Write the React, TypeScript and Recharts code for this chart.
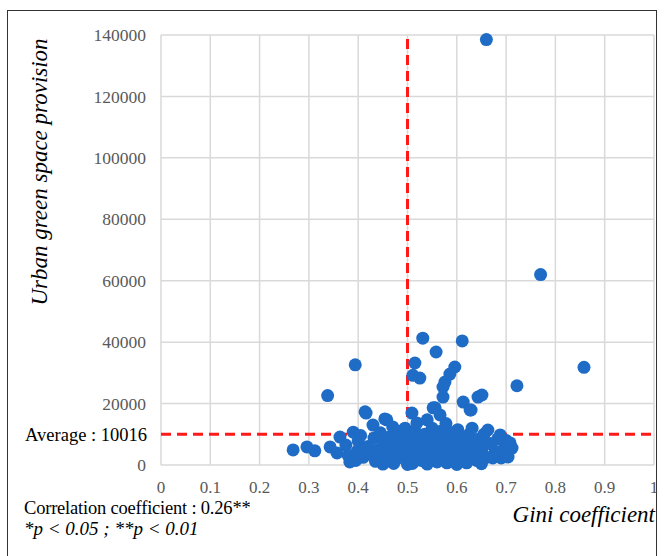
import React from 'react';
import {
  ScatterChart,
  Scatter,
  XAxis,
  YAxis,
  CartesianGrid,
  ReferenceLine,
} from 'recharts';

// Gini coefficient vs urban green space provision
const upperPoints: Array<[number, number]> = [
  [0.66, 138500], [0.77, 62000], [0.858, 31800], [0.722, 25800],
  [0.394, 32600], [0.338, 22600], [0.531, 41300], [0.611, 40400],
  [0.558, 36800], [0.515, 33200], [0.525, 28300], [0.511, 29200],
  [0.596, 31900], [0.586, 29600], [0.576, 27000], [0.572, 25400],
  [0.572, 22100], [0.416, 16900], [0.454, 15000], [0.552, 18600],
  [0.509, 16900], [0.643, 22100], [0.651, 22800], [0.613, 20500],
  [0.627, 17900],
];

const clusterPoints: Array<[number, number]> = [
  [0.268, 4900], [0.296, 5900], [0.312, 4600], [0.343, 5900], [0.357, 3900],
  [0.363, 9100], [0.383, 1000], [0.39, 10700], [0.375, 6500], [0.38, 3000],
  [0.395, 1500], [0.4, 7800], [0.398, 4500], [0.405, 9600], [0.41, 2500],
  [0.414, 17300], [0.42, 6000], [0.425, 3500], [0.43, 13000], [0.432, 8800],
  [0.435, 1200], [0.44, 5000], [0.445, 10500], [0.448, 3000], [0.452, 7000],
  [0.455, 1000], [0.458, 14700], [0.46, 4500], [0.462, 9000], [0.465, 2000],
  [0.468, 6500], [0.47, 12400], [0.472, 500], [0.475, 3800], [0.478, 8000],
  [0.48, 5500], [0.482, 11000], [0.485, 2500], [0.488, 7000], [0.49, 4000],
  [0.492, 9500], [0.495, 12000], [0.497, 1500], [0.5, 6000], [0.503, 3000],
  [0.505, 8500], [0.51, 500], [0.512, 5000], [0.515, 11000], [0.518, 2500],
  [0.519, 13700], [0.52, 7500], [0.523, 4000], [0.525, 9500], [0.528, 1500],
  [0.53, 6000], [0.533, 3000], [0.535, 10000], [0.538, 800], [0.54, 14700],
  [0.542, 5000], [0.545, 7500], [0.548, 2000], [0.55, 12000], [0.555, 4000],
  [0.556, 18600], [0.558, 9000], [0.56, 1000], [0.562, 6500], [0.565, 3000],
  [0.566, 16300], [0.568, 11000], [0.57, 8000], [0.572, 2000], [0.575, 5000],
  [0.578, 13500], [0.58, 700], [0.582, 7000], [0.585, 3500], [0.586, 9800],
  [0.59, 10500], [0.592, 5500], [0.595, 1500], [0.598, 8500], [0.6, 4000],
  [0.602, 11500], [0.605, 2500], [0.608, 6000], [0.61, 9000], [0.615, 3500],
  [0.618, 7000], [0.62, 700], [0.622, 5000], [0.625, 10000], [0.629, 17900],
  [0.63, 3000], [0.631, 12000], [0.635, 6000], [0.64, 1500], [0.645, 8500],
  [0.647, 3900], [0.653, 5900], [0.655, 10000], [0.66, 2500], [0.663, 11400],
  [0.668, 7000], [0.673, 2300], [0.678, 4500], [0.683, 8500], [0.688, 9800],
  [0.69, 2300], [0.695, 5000], [0.7, 8000], [0.704, 2600], [0.708, 7200],
  [0.712, 5500], [0.45, 300], [0.5, 200], [0.54, 300], [0.6, 200], [0.65, 400],
  [0.47, 6000], [0.51, 8000], [0.55, 6500], [0.59, 7500], [0.63, 8000],
];

const xTicks = [0, 0.1, 0.2, 0.3, 0.4, 0.5, 0.6, 0.7, 0.8, 0.9, 1];
const yTicks = [0, 20000, 40000, 60000, 80000, 100000, 120000, 140000];
const averageValue = 10016;
const giniThreshold = 0.5;

const serif = "'Liberation Serif', 'Times New Roman', serif";
const dotColor = '#1f6cc7';
const tickColor = '#595959';

const data = [...upperPoints, ...clusterPoints].map(([gini, green]) => ({ gini, green }));

const Dot = (props: any) => {
  if (props.cx == null || props.cy == null) return null;
  return <circle cx={props.cx} cy={props.cy} r={6.5} fill={dotColor} />;
};

const XTick = (props: any) => (
  <text x={props.x} y={props.y} dy="0.71em" textAnchor="middle" fill={tickColor} fontSize={17} fontFamily={serif}>
    {props.payload.value}
  </text>
);

const YTick = (props: any) => (
  <text x={props.x} y={props.y} dy="0.355em" textAnchor="end" fill={tickColor} fontSize={17.5} fontFamily={serif}>
    {props.payload.value}
  </text>
);

const note: React.CSSProperties = {
  position: 'absolute',
  lineHeight: 1,
  color: '#000',
  whiteSpace: 'nowrap',
};

export default function App() {
  return (
    <div style={{ position: 'absolute', left: 0, top: 0, width: 664, height: 556, overflow: 'hidden', background: '#fff', fontFamily: serif }}>
      <div
        style={{
          position: 'absolute',
          left: 7,
          top: 10,
          width: 650,
          height: 600,
          border: '1.5px solid #333',
          boxSizing: 'border-box',
        }}
      />
      <ScatterChart width={664} height={556} margin={{ top: 35, right: 10, bottom: 61, left: 0 }}>
        <CartesianGrid stroke="#d9d9d9" strokeWidth={1.5} />
        <XAxis
          type="number"
          dataKey="gini"
          domain={[0, 1]}
          ticks={xTicks}
          axisLine={false}
          tickLine={false}
          tickSize={0}
          tickMargin={16}
          tick={XTick}
        />
        <YAxis
          type="number"
          dataKey="green"
          domain={[0, 140000]}
          ticks={yTicks}
          width={161}
          axisLine={false}
          tickLine={false}
          tickSize={0}
          tickMargin={15}
          tick={YTick}
        />
        <Scatter data={data} fill={dotColor} shape={Dot} isAnimationActive={false} />
        <ReferenceLine
          y={averageValue}
          stroke="#ff1a1a"
          strokeWidth={3}
          strokeDasharray="10 6"
          label={{ value: 'Average : 10016', position: 'left', offset: 14, fill: '#000', fontSize: 18.5, fontFamily: serif }}
        />
        <ReferenceLine x={giniThreshold} stroke="#ff1a1a" strokeWidth={3} strokeDasharray="10 6" />
      </ScatterChart>
      <div
        style={{
          position: 'absolute',
          left: 40,
          top: 172,
          transform: 'translate(-50%, -50%) rotate(-90deg)',
          whiteSpace: 'nowrap',
          fontStyle: 'italic',
          fontSize: 23,
          color: '#000',
        }}
      >
        Urban green space provision
      </div>
      <div style={{ ...note, left: 24, top: 499, fontSize: 18.5, letterSpacing: -0.2 }}>
        Correlation coefficient : 0.26**
      </div>
      <div style={{ ...note, left: 24, top: 519, fontSize: 19, fontStyle: 'italic' }}>
        *p &lt; 0.05 ; **p &lt; 0.01
      </div>
      <div style={{ ...note, right: 9, top: 503, fontSize: 23, fontStyle: 'italic' }}>
        Gini coefficient
      </div>
    </div>
  );
}
